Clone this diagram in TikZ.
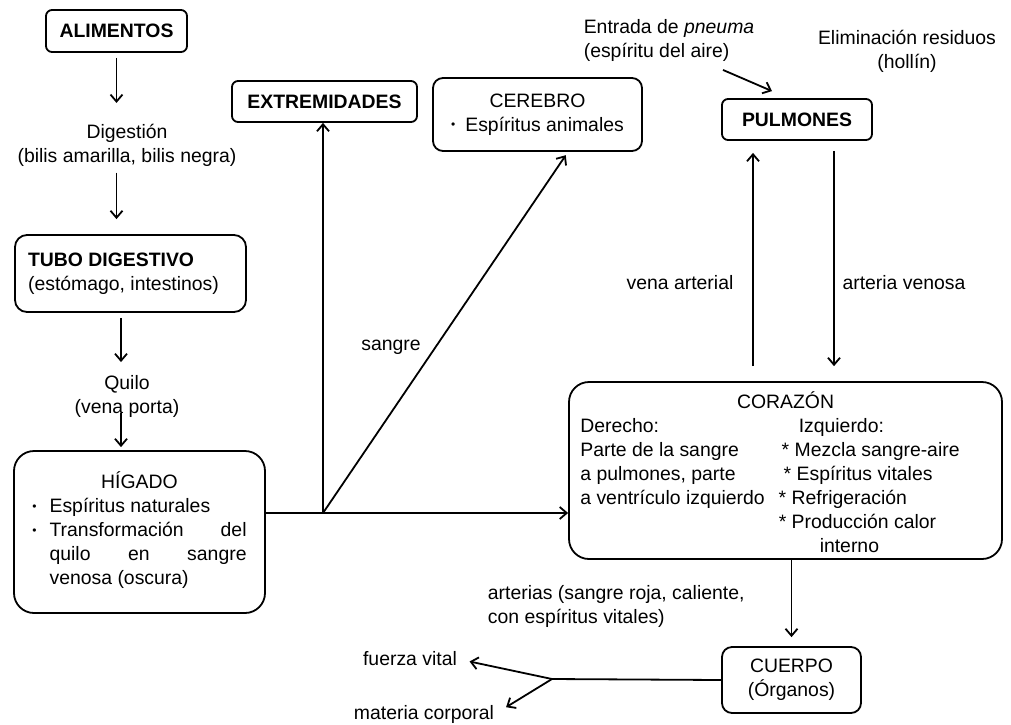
\documentclass[tikz,border=0pt]{standalone}
\usepackage{fontspec}
\setmainfont{Liberation Sans}
\usepackage{tikz}
\usetikzlibrary{arrows.meta}

\newcommand{\bul}{\raisebox{1.2pt}{\fontsize{6}{6}\selectfont\textbullet}}

\begin{document}
\begin{tikzpicture}[x=0.5pt,y=-0.5pt,line width=0.9pt,
        font=\fontsize{9.7}{12}\selectfont,
        box/.style={draw,align=center,inner sep=1pt},
        lbl/.style={inner sep=0pt,align=center},
        arr/.style={-{Straight Barb[length=3.5pt,width=6pt]}}]
        \useasboundingbox (0,0) rectangle (1011,724);

        \node[box,minimum width=70.5pt,minimum height=21pt,rounded corners=3pt] (alimentos) at (116.5,31) {\bfseries ALIMENTOS};
        \node[lbl] (digestion) at (127,145) {Digestión\\(bilis amarilla, bilis negra)};
        \node[box,align=left,minimum width=115.5pt,minimum height=38.5pt,rounded corners=6pt] (tubo) at (130.5,273.5) {{\bfseries TUBO DIGESTIVO}\\(estómago, intestinos)\rule{7pt}{0pt}};
        \node[lbl] (quilo) at (127,396) {Quilo\\(vena porta)};
        \node[box,minimum width=125.5pt,minimum height=81pt,rounded corners=10pt] (higado) at (139.5,532) {%
            \begin{tabular}{@{}c@{\hskip 6.5pt}p{98.5pt}@{}}
                \multicolumn{2}{c}{HÍGADO}\\
                \bul & Espíritus naturales\\
                \bul & Transformación\hfill del\newline quilo\hfill en\hfill sangre\newline venosa (oscura)
            \end{tabular}};

        \node[box,minimum width=92.5pt,minimum height=20.5pt,rounded corners=3pt] (extrem) at (324.5,101.5) {\bfseries EXTREMIDADES};
        \node[box,minimum width=104.5pt,minimum height=36.5pt,rounded corners=5pt] (cerebro) at (537.5,114.5) {%
            \begin{tabular}{@{}c@{\hskip 5pt}l@{}}
                \multicolumn{2}{c}{CEREBRO}\\
                \bul & Espíritus animales
            \end{tabular}};
        \node[box,minimum width=75pt,minimum height=20.5pt,rounded corners=3pt] (pulmones) at (797,119.5) {\bfseries PULMONES};
        \node[lbl,align=left] (entrada) at (669,40) {Entrada de \emph{pneuma}\\(espíritu del aire)};
        \node[lbl] (residuos) at (907,51) {Eliminación residuos\\(hollín)};

        \node[box,minimum width=216.5pt,minimum height=88.5pt,text height=47pt,text depth=37pt,rounded corners=10pt] (corazon) at (785.5,470.5) {%
            \begin{tabular}{@{}l@{\hskip 7pt}l@{\hskip 15.5pt}}
                \multicolumn{2}{@{}c@{}}{CORAZÓN}\\
                Derecho: & \hspace{10pt}Izquierdo:\\
                Parte de la sangre & \hspace{1.5pt}* Mezcla sangre-aire\\
                a pulmones, parte & \hspace{2.5pt}* Espíritus vitales\\
                a ventrículo izquierdo & * Refrigeración\\
                & * Producción calor\\
                & \hspace{20.5pt}interno
            \end{tabular}};
        \node[box,minimum width=69.5pt,minimum height=33pt,rounded corners=5pt] (cuerpo) at (791.5,680) {CUERPO\\(Órganos)};

        \node[lbl] (sangre) at (391,347) {sangre};
        \node[lbl] (venaart) at (680,283) {vena arterial};
        \node[lbl] (artven) at (904,283) {arteria venosa};
        \node[lbl,align=left,anchor=west] (arterias) at (487,606) {arterias (sangre roja, caliente,\\con espíritus vitales)};
        \node[lbl] (fuerza) at (410,659) {fuerza vital};
        \node[lbl] (materia) at (424,714) {materia corporal};

        \coordinate (colB) at (121,0);
        \coordinate (split) at (323,513);
        \coordinate (split2) at (552,679);
        \coordinate (va) at (753,0);
        \coordinate (av) at (834,0);

        \draw[arr,shorten <=2.5pt,shorten >=10pt] (alimentos.south) -- (alimentos.south |- digestion.north);
        \draw[arr,shorten <=2.75pt,shorten >=7.5pt] (alimentos.south |- digestion.south) -- (alimentos.south |- tubo.north);
        \draw[arr,shorten <=2.5pt,shorten >=6pt] (colB |- tubo.south) -- (colB |- quilo.north);
        \draw[arr,shorten <=-2.5pt,shorten >=1.5pt] (colB |- quilo.south) -- (colB |- higado.north);

        \draw (higado.east |- split) -- (split);
        \draw[arr] (split) -- (corazon.west |- split);
        \draw[arr] (split) -- (split |- extrem.south);
        \draw[arr,shorten >=2pt] (split) -- ([xshift=15.25pt]cerebro.south);

        \draw[arr,shorten <=7.5pt,shorten >=6pt] (va |- corazon.north) -- (va |- pulmones.south);
        \draw[arr,shorten <=5pt,shorten >=7.5pt] (av |- pulmones.south) -- (av |- corazon.north);
        \draw[arr] ([xshift=27pt,yshift=-4pt]entrada.south) -- ([xshift=-12.5pt,yshift=3.5pt]pulmones.north);

        \draw[arr,shorten >=4.5pt] (cuerpo.north |- corazon.south) -- (cuerpo.north);
        \draw (cuerpo.west) -- (split2);
        \draw[arr,shorten >=6pt] (split2) -- (fuerza.east);
        \draw[arr,shorten >=6.5pt] (split2) -- (materia.east);
    \end{tikzpicture}
\end{document}
